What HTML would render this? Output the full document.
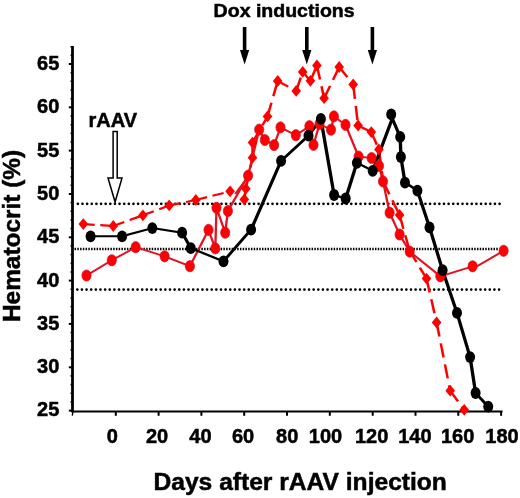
<!DOCTYPE html>
<html><head><meta charset="utf-8"><style>
html,body{margin:0;padding:0;background:#fff;width:520px;height:498px;overflow:hidden}
svg{display:block}
text{font-family:"Liberation Sans",sans-serif;font-weight:bold;fill:#000;stroke:#000;stroke-width:0.5px}
svg{will-change:transform}
.yl{font-size:20px}
.xl{font-size:20px}
.t1{font-size:18.7px}
.t2{font-size:20px}
.t3{font-size:24.6px}
.t4{font-size:24.4px}
</style></head><body>
<svg width="520" height="498" viewBox="0 0 520 498">
<line x1="77.85" y1="203.8" x2="500" y2="203.8" stroke="#000" stroke-width="2.7" stroke-dasharray="0.001 4.6335" stroke-linecap="round"/>
<line x1="77.3" y1="289.6" x2="500.2" y2="289.6" stroke="#000" stroke-width="2.7" stroke-dasharray="0.001 4.6335" stroke-linecap="round"/>
<line x1="74.55" y1="249" x2="498" y2="249" stroke="#000" stroke-width="2.5" stroke-dasharray="1.5 1.2562"/>
<line x1="72.5" y1="46" x2="72.5" y2="412.4" stroke="#000" stroke-width="2.8"/>
<line x1="72.9" y1="412" x2="72.3" y2="415.6" stroke="#000" stroke-width="1.4"/>
<line x1="72" y1="411.6" x2="502.6" y2="411.6" stroke="#000" stroke-width="2"/>
<line x1="68.8" y1="410.6" x2="73" y2="410.6" stroke="#000" stroke-width="2"/>
<line x1="70.5" y1="401.9" x2="73" y2="401.9" stroke="#000" stroke-width="1.5"/>
<line x1="70.5" y1="393.3" x2="73" y2="393.3" stroke="#000" stroke-width="1.5"/>
<line x1="70.5" y1="384.6" x2="73" y2="384.6" stroke="#000" stroke-width="1.5"/>
<line x1="70.5" y1="375.9" x2="73" y2="375.9" stroke="#000" stroke-width="1.5"/>
<line x1="68.8" y1="367.3" x2="73" y2="367.3" stroke="#000" stroke-width="2"/>
<line x1="70.5" y1="358.6" x2="73" y2="358.6" stroke="#000" stroke-width="1.5"/>
<line x1="70.5" y1="349.9" x2="73" y2="349.9" stroke="#000" stroke-width="1.5"/>
<line x1="70.5" y1="341.3" x2="73" y2="341.3" stroke="#000" stroke-width="1.5"/>
<line x1="70.5" y1="332.6" x2="73" y2="332.6" stroke="#000" stroke-width="1.5"/>
<line x1="68.8" y1="323.9" x2="73" y2="323.9" stroke="#000" stroke-width="2"/>
<line x1="70.5" y1="315.3" x2="73" y2="315.3" stroke="#000" stroke-width="1.5"/>
<line x1="70.5" y1="306.6" x2="73" y2="306.6" stroke="#000" stroke-width="1.5"/>
<line x1="70.5" y1="298.0" x2="73" y2="298.0" stroke="#000" stroke-width="1.5"/>
<line x1="70.5" y1="289.3" x2="73" y2="289.3" stroke="#000" stroke-width="1.5"/>
<line x1="68.8" y1="280.6" x2="73" y2="280.6" stroke="#000" stroke-width="2"/>
<line x1="70.5" y1="272.0" x2="73" y2="272.0" stroke="#000" stroke-width="1.5"/>
<line x1="70.5" y1="263.3" x2="73" y2="263.3" stroke="#000" stroke-width="1.5"/>
<line x1="70.5" y1="254.6" x2="73" y2="254.6" stroke="#000" stroke-width="1.5"/>
<line x1="70.5" y1="246.0" x2="73" y2="246.0" stroke="#000" stroke-width="1.5"/>
<line x1="68.8" y1="237.3" x2="73" y2="237.3" stroke="#000" stroke-width="2"/>
<line x1="70.5" y1="228.6" x2="73" y2="228.6" stroke="#000" stroke-width="1.5"/>
<line x1="70.5" y1="220.0" x2="73" y2="220.0" stroke="#000" stroke-width="1.5"/>
<line x1="70.5" y1="211.3" x2="73" y2="211.3" stroke="#000" stroke-width="1.5"/>
<line x1="70.5" y1="202.6" x2="73" y2="202.6" stroke="#000" stroke-width="1.5"/>
<line x1="68.8" y1="194.0" x2="73" y2="194.0" stroke="#000" stroke-width="2"/>
<line x1="70.5" y1="185.3" x2="73" y2="185.3" stroke="#000" stroke-width="1.5"/>
<line x1="70.5" y1="176.6" x2="73" y2="176.6" stroke="#000" stroke-width="1.5"/>
<line x1="70.5" y1="168.0" x2="73" y2="168.0" stroke="#000" stroke-width="1.5"/>
<line x1="70.5" y1="159.3" x2="73" y2="159.3" stroke="#000" stroke-width="1.5"/>
<line x1="68.8" y1="150.6" x2="73" y2="150.6" stroke="#000" stroke-width="2"/>
<line x1="70.5" y1="142.0" x2="73" y2="142.0" stroke="#000" stroke-width="1.5"/>
<line x1="70.5" y1="133.3" x2="73" y2="133.3" stroke="#000" stroke-width="1.5"/>
<line x1="70.5" y1="124.7" x2="73" y2="124.7" stroke="#000" stroke-width="1.5"/>
<line x1="70.5" y1="116.0" x2="73" y2="116.0" stroke="#000" stroke-width="1.5"/>
<line x1="68.8" y1="107.3" x2="73" y2="107.3" stroke="#000" stroke-width="2"/>
<line x1="70.5" y1="98.7" x2="73" y2="98.7" stroke="#000" stroke-width="1.5"/>
<line x1="70.5" y1="90.0" x2="73" y2="90.0" stroke="#000" stroke-width="1.5"/>
<line x1="70.5" y1="81.3" x2="73" y2="81.3" stroke="#000" stroke-width="1.5"/>
<line x1="70.5" y1="72.7" x2="73" y2="72.7" stroke="#000" stroke-width="1.5"/>
<line x1="68.8" y1="64.0" x2="73" y2="64.0" stroke="#000" stroke-width="2"/>
<line x1="70.5" y1="55.3" x2="73" y2="55.3" stroke="#000" stroke-width="1.5"/>
<line x1="70.5" y1="46.7" x2="73" y2="46.7" stroke="#000" stroke-width="1.5"/>
<line x1="115.8" y1="411" x2="115.8" y2="415.8" stroke="#000" stroke-width="2"/>
<line x1="158.6" y1="411" x2="158.6" y2="415.8" stroke="#000" stroke-width="2"/>
<line x1="201.4" y1="411" x2="201.4" y2="415.8" stroke="#000" stroke-width="2"/>
<line x1="244.2" y1="411" x2="244.2" y2="415.8" stroke="#000" stroke-width="2"/>
<line x1="287.0" y1="411" x2="287.0" y2="415.8" stroke="#000" stroke-width="2"/>
<line x1="329.8" y1="411" x2="329.8" y2="415.8" stroke="#000" stroke-width="2"/>
<line x1="372.7" y1="411" x2="372.7" y2="415.8" stroke="#000" stroke-width="2"/>
<line x1="415.5" y1="411" x2="415.5" y2="415.8" stroke="#000" stroke-width="2"/>
<line x1="458.3" y1="411" x2="458.3" y2="415.8" stroke="#000" stroke-width="2"/>
<line x1="501.1" y1="411" x2="501.1" y2="415.8" stroke="#000" stroke-width="2"/>
<g transform="scale(1.15,1)" stroke="#ff0000" stroke-width="2.2" stroke-linecap="butt"><line x1="72.43" y1="224.10" x2="82.34" y2="224.82"/><line x1="87.20" y1="225.18" x2="97.10" y2="225.90"/><line x1="98.52" y1="226.00" x2="108.06" y2="222.04"/><line x1="112.74" y1="220.09" x2="122.27" y2="216.13"/><line x1="124.26" y1="215.30" x2="133.77" y2="211.19"/><line x1="138.43" y1="209.16" x2="147.13" y2="205.40"/><line x1="147.13" y1="205.40" x2="156.92" y2="203.11"/><line x1="161.73" y1="201.99" x2="170.26" y2="200.00"/><line x1="170.26" y1="200.00" x2="179.98" y2="197.16"/><line x1="184.76" y1="195.77" x2="194.48" y2="192.94"/><line x1="199.25" y1="191.54" x2="200.09" y2="191.30"/><line x1="212.43" y1="199.40" x2="213.74" y2="188.70"/><line x1="213.74" y1="188.70" x2="216.36" y2="174.74"/><line x1="217.65" y1="167.88" x2="219.57" y2="157.70"/><line x1="219.57" y1="157.70" x2="219.57" y2="143.22"/><line x1="219.57" y1="142.60" x2="225.39" y2="130.89"/><line x1="228.26" y1="125.14" x2="232.61" y2="116.40"/><line x1="232.61" y1="116.40" x2="236.02" y2="102.80"/><line x1="237.69" y1="96.12" x2="241.10" y2="82.53"/><line x1="241.48" y1="81.00" x2="250.61" y2="86.62"/><line x1="255.10" y1="89.38" x2="257.57" y2="90.90"/><line x1="257.57" y1="90.90" x2="261.52" y2="77.62"/><line x1="263.22" y1="71.90" x2="269.91" y2="80.80"/><line x1="269.91" y1="80.80" x2="274.62" y2="68.06"/><line x1="275.57" y1="65.50" x2="278.23" y2="79.44"/><line x1="279.55" y1="86.29" x2="281.83" y2="98.20"/><line x1="281.83" y1="98.20" x2="287.02" y2="85.87"/><line x1="289.57" y1="79.81" x2="294.76" y2="67.47"/><line x1="294.96" y1="67.00" x2="302.02" y2="77.16"/><line x1="305.49" y1="82.14" x2="307.13" y2="84.50"/><line x1="307.13" y1="84.50" x2="308.62" y2="98.81"/><line x1="309.35" y1="105.85" x2="310.84" y2="120.16"/><line x1="311.39" y1="125.50" x2="320.62" y2="130.80"/><line x1="322.87" y1="132.10" x2="327.68" y2="144.76"/><line x1="329.48" y1="149.50" x2="331.16" y2="163.77"/><line x1="331.98" y1="170.78" x2="333.30" y2="182.00"/><line x1="333.30" y1="182.00" x2="338.57" y2="194.26"/><line x1="341.16" y1="200.29" x2="346.43" y2="212.55"/><line x1="347.48" y1="215.00" x2="350.79" y2="228.65"/><line x1="352.41" y1="235.35" x2="355.72" y2="249.00"/><line x1="356.09" y1="250.50" x2="362.13" y2="261.98"/><line x1="365.09" y1="267.62" x2="370.87" y2="278.60"/><line x1="370.87" y1="278.60" x2="373.65" y2="292.50"/><line x1="375.02" y1="299.32" x2="377.80" y2="313.22"/><line x1="379.16" y1="320.05" x2="379.65" y2="322.50"/><line x1="379.65" y1="322.50" x2="382.09" y2="336.53"/><line x1="383.28" y1="343.43" x2="385.72" y2="357.46"/><line x1="386.91" y1="364.36" x2="389.34" y2="378.39"/><line x1="390.54" y1="385.29" x2="391.48" y2="390.70"/><line x1="391.48" y1="390.70" x2="398.23" y2="401.30"/><line x1="401.55" y1="406.50" x2="403.65" y2="409.80"/></g>
<g transform="scale(1.22,1)"><polyline points="70.90,275.5 91.64,260.3 111.23,247.2 134.92,256.3 155.66,266.2 170.90,229.9 176.48,248.4 177.46,207.8 184.59,232.7 186.80,211.0 203.36,175.6 212.46,129.6 217.05,140.0 224.67,145.1 229.92,127.4 242.46,135.2 253.61,126.2 256.97,144.9 261.89,124.0 271.31,129.7 273.69,116.4 283.20,124.9 293.93,156.6 304.59,158.0 310.66,165.9 313.93,181.4 319.34,212.7 327.54,234.5 335.82,251.6 360.90,276.3 387.38,266.3 388.20,268.2 412.79,250.8" fill="none" stroke="#e2121f" stroke-width="1.9" stroke-linejoin="round"/><line x1="192.79" y1="194" x2="203.11" y2="177" stroke="#e2121f" stroke-width="1.7"/></g>
<g transform="scale(1.6,1)"><polyline points="56.62,236.3 76.31,236.3 95.19,228.1 113.81,232.7 119.25,248.2 139.69,261.3 156.94,229.6 175.69,160.8 192.81,135.7 200.56,118.9 208.81,195.0 216.06,198.5 223.06,162.8 232.94,170.8 245.19,118.5 250.12,136.9 250.56,157.0 253.12,182.6 260.87,190.6 268.44,227.3 276.62,270.2 285.62,312.9 293.81,357.1 297.25,393.0 305.12,406.6" fill="none" stroke="#000" stroke-width="2.1" stroke-linejoin="round"/></g>
<polygon points="78.5,224.1 83.3,218.2 88.1,224.1 83.3,230.0" fill="#ff0000"/>
<polygon points="108.5,226.0 113.3,220.1 118.1,226.0 113.3,231.9" fill="#ff0000"/>
<polygon points="138.1,215.3 142.9,209.4 147.7,215.3 142.9,221.2" fill="#ff0000"/>
<polygon points="164.4,205.4 169.2,199.5 174.0,205.4 169.2,211.3" fill="#ff0000"/>
<polygon points="191.0,200.0 195.8,194.1 200.6,200.0 195.8,205.9" fill="#ff0000"/>
<polygon points="225.3,191.3 230.1,185.4 234.9,191.3 230.1,197.2" fill="#ff0000"/>
<polygon points="239.5,199.4 244.3,193.5 249.1,199.4 244.3,205.3" fill="#ff0000"/>
<polygon points="241.0,188.7 245.8,182.8 250.6,188.7 245.8,194.6" fill="#ff0000"/>
<polygon points="247.7,157.7 252.5,151.8 257.3,157.7 252.5,163.6" fill="#ff0000"/>
<polygon points="247.7,142.6 252.5,136.7 257.3,142.6 252.5,148.5" fill="#ff0000"/>
<polygon points="262.7,116.4 267.5,110.5 272.3,116.4 267.5,122.3" fill="#ff0000"/>
<polygon points="272.9,81.0 277.7,75.1 282.5,81.0 277.7,86.9" fill="#ff0000"/>
<polygon points="291.4,90.9 296.2,85.0 301.0,90.9 296.2,96.8" fill="#ff0000"/>
<polygon points="297.9,71.9 302.7,66.0 307.5,71.9 302.7,77.8" fill="#ff0000"/>
<polygon points="305.6,80.8 310.4,74.9 315.2,80.8 310.4,86.7" fill="#ff0000"/>
<polygon points="312.1,65.5 316.9,59.6 321.7,65.5 316.9,71.4" fill="#ff0000"/>
<polygon points="319.3,98.2 324.1,92.3 328.9,98.2 324.1,104.1" fill="#ff0000"/>
<polygon points="334.4,67.0 339.2,61.1 344.0,67.0 339.2,72.9" fill="#ff0000"/>
<polygon points="348.4,84.5 353.2,78.6 358.0,84.5 353.2,90.4" fill="#ff0000"/>
<polygon points="353.3,125.5 358.1,119.6 362.9,125.5 358.1,131.4" fill="#ff0000"/>
<polygon points="366.5,132.1 371.3,126.2 376.1,132.1 371.3,138.0" fill="#ff0000"/>
<polygon points="374.1,149.5 378.9,143.6 383.7,149.5 378.9,155.4" fill="#ff0000"/>
<polygon points="394.8,215.0 399.6,209.1 404.4,215.0 399.6,220.9" fill="#ff0000"/>
<polygon points="421.7,278.6 426.5,272.7 431.3,278.6 426.5,284.5" fill="#ff0000"/>
<polygon points="431.8,322.5 436.6,316.6 441.4,322.5 436.6,328.4" fill="#ff0000"/>
<polygon points="445.4,390.7 450.2,384.8 455.0,390.7 450.2,396.6" fill="#ff0000"/>
<polygon points="459.4,409.8 464.2,403.9 469.0,409.8 464.2,415.7" fill="#ff0000"/>
<ellipse cx="86.5" cy="275.5" rx="4.6" ry="5.6" fill="#ff0000" stroke="#d0102a" stroke-width="0.7"/>
<ellipse cx="111.8" cy="260.3" rx="4.6" ry="5.6" fill="#ff0000" stroke="#d0102a" stroke-width="0.7"/>
<ellipse cx="135.7" cy="247.2" rx="4.6" ry="5.6" fill="#ff0000" stroke="#d0102a" stroke-width="0.7"/>
<ellipse cx="164.6" cy="256.3" rx="4.6" ry="5.6" fill="#ff0000" stroke="#d0102a" stroke-width="0.7"/>
<ellipse cx="189.9" cy="266.2" rx="4.6" ry="5.6" fill="#ff0000" stroke="#d0102a" stroke-width="0.7"/>
<ellipse cx="208.5" cy="229.9" rx="4.6" ry="5.6" fill="#ff0000" stroke="#d0102a" stroke-width="0.7"/>
<ellipse cx="215.3" cy="248.4" rx="4.6" ry="5.6" fill="#ff0000" stroke="#d0102a" stroke-width="0.7"/>
<ellipse cx="216.5" cy="207.8" rx="4.6" ry="5.6" fill="#ff0000" stroke="#d0102a" stroke-width="0.7"/>
<ellipse cx="225.2" cy="232.7" rx="4.6" ry="5.6" fill="#ff0000" stroke="#d0102a" stroke-width="0.7"/>
<ellipse cx="227.9" cy="211.0" rx="4.6" ry="5.6" fill="#ff0000" stroke="#d0102a" stroke-width="0.7"/>
<ellipse cx="248.1" cy="175.6" rx="4.6" ry="5.6" fill="#ff0000" stroke="#d0102a" stroke-width="0.7"/>
<ellipse cx="259.2" cy="129.6" rx="4.6" ry="5.6" fill="#ff0000" stroke="#d0102a" stroke-width="0.7"/>
<ellipse cx="264.8" cy="140.0" rx="4.6" ry="5.6" fill="#ff0000" stroke="#d0102a" stroke-width="0.7"/>
<ellipse cx="274.1" cy="145.1" rx="4.6" ry="5.6" fill="#ff0000" stroke="#d0102a" stroke-width="0.7"/>
<ellipse cx="280.5" cy="127.4" rx="4.6" ry="5.6" fill="#ff0000" stroke="#d0102a" stroke-width="0.7"/>
<ellipse cx="295.8" cy="135.2" rx="4.6" ry="5.6" fill="#ff0000" stroke="#d0102a" stroke-width="0.7"/>
<ellipse cx="309.4" cy="126.2" rx="4.6" ry="5.6" fill="#ff0000" stroke="#d0102a" stroke-width="0.7"/>
<ellipse cx="313.5" cy="144.9" rx="4.6" ry="5.6" fill="#ff0000" stroke="#d0102a" stroke-width="0.7"/>
<ellipse cx="319.5" cy="124.0" rx="4.6" ry="5.6" fill="#ff0000" stroke="#d0102a" stroke-width="0.7"/>
<ellipse cx="331.0" cy="129.7" rx="4.6" ry="5.6" fill="#ff0000" stroke="#d0102a" stroke-width="0.7"/>
<ellipse cx="333.9" cy="116.4" rx="4.6" ry="5.6" fill="#ff0000" stroke="#d0102a" stroke-width="0.7"/>
<ellipse cx="345.5" cy="124.9" rx="4.6" ry="5.6" fill="#ff0000" stroke="#d0102a" stroke-width="0.7"/>
<ellipse cx="358.6" cy="156.6" rx="4.6" ry="5.6" fill="#ff0000" stroke="#d0102a" stroke-width="0.7"/>
<ellipse cx="371.6" cy="158.0" rx="4.6" ry="5.6" fill="#ff0000" stroke="#d0102a" stroke-width="0.7"/>
<ellipse cx="379.0" cy="165.9" rx="4.6" ry="5.6" fill="#ff0000" stroke="#d0102a" stroke-width="0.7"/>
<ellipse cx="383.0" cy="181.4" rx="4.6" ry="5.6" fill="#ff0000" stroke="#d0102a" stroke-width="0.7"/>
<ellipse cx="389.6" cy="212.7" rx="4.6" ry="5.6" fill="#ff0000" stroke="#d0102a" stroke-width="0.7"/>
<ellipse cx="399.6" cy="234.5" rx="4.6" ry="5.6" fill="#ff0000" stroke="#d0102a" stroke-width="0.7"/>
<ellipse cx="409.7" cy="251.6" rx="4.6" ry="5.6" fill="#ff0000" stroke="#d0102a" stroke-width="0.7"/>
<ellipse cx="440.3" cy="276.3" rx="4.6" ry="5.6" fill="#ff0000" stroke="#d0102a" stroke-width="0.7"/>
<ellipse cx="472.6" cy="266.3" rx="4.6" ry="5.6" fill="#ff0000" stroke="#d0102a" stroke-width="0.7"/>
<ellipse cx="503.6" cy="250.8" rx="4.6" ry="5.6" fill="#ff0000" stroke="#d0102a" stroke-width="0.7"/>
<ellipse cx="90.6" cy="236.3" rx="5.0" ry="5.9" fill="#000"/>
<ellipse cx="122.1" cy="236.3" rx="5.0" ry="5.9" fill="#000"/>
<ellipse cx="152.3" cy="228.1" rx="5.0" ry="5.9" fill="#000"/>
<ellipse cx="182.1" cy="232.7" rx="5.0" ry="5.9" fill="#000"/>
<ellipse cx="190.8" cy="248.2" rx="5.0" ry="5.9" fill="#000"/>
<ellipse cx="223.5" cy="261.3" rx="5.0" ry="5.9" fill="#000"/>
<ellipse cx="251.1" cy="229.6" rx="5.0" ry="5.9" fill="#000"/>
<ellipse cx="281.1" cy="160.8" rx="5.0" ry="5.9" fill="#000"/>
<ellipse cx="308.5" cy="135.7" rx="5.0" ry="5.9" fill="#000"/>
<ellipse cx="320.9" cy="118.9" rx="5.0" ry="5.9" fill="#000"/>
<ellipse cx="334.1" cy="195.0" rx="5.0" ry="5.9" fill="#000"/>
<ellipse cx="345.7" cy="198.5" rx="5.0" ry="5.9" fill="#000"/>
<ellipse cx="356.9" cy="162.8" rx="5.0" ry="5.9" fill="#000"/>
<ellipse cx="372.7" cy="170.8" rx="5.0" ry="5.9" fill="#000"/>
<ellipse cx="391.2" cy="114.3" rx="5.0" ry="5.9" fill="#000"/>
<ellipse cx="400.2" cy="136.9" rx="5.0" ry="5.9" fill="#000"/>
<ellipse cx="400.9" cy="157.0" rx="5.0" ry="5.9" fill="#000"/>
<ellipse cx="405.0" cy="182.6" rx="5.0" ry="5.9" fill="#000"/>
<ellipse cx="417.4" cy="190.6" rx="5.0" ry="5.9" fill="#000"/>
<ellipse cx="429.5" cy="227.3" rx="5.0" ry="5.9" fill="#000"/>
<ellipse cx="442.6" cy="270.2" rx="5.0" ry="5.9" fill="#000"/>
<ellipse cx="457.0" cy="312.9" rx="5.0" ry="5.9" fill="#000"/>
<ellipse cx="470.1" cy="357.1" rx="5.0" ry="5.9" fill="#000"/>
<ellipse cx="475.6" cy="393.0" rx="5.0" ry="5.9" fill="#000"/>
<ellipse cx="488.2" cy="406.6" rx="5.0" ry="5.9" fill="#000"/>
<rect x="242.8" y="27" width="3.6" height="25" fill="#000"/>
<polygon points="240.0,50 249.2,50 244.6,64.5" fill="#000"/>
<rect x="305.0" y="27" width="3.6" height="25" fill="#000"/>
<polygon points="302.2,50 311.4,50 306.8,64.5" fill="#000"/>
<rect x="370.6" y="27" width="3.6" height="25" fill="#000"/>
<polygon points="367.8,50 377.0,50 372.4,64.5" fill="#000"/>
<path d="M113.1,131.4 H117.2 V178 H122 L115.1,202 L108,178 H113.1 Z" fill="#fff" stroke="#000" stroke-width="1.5" stroke-linejoin="miter"/>
<text x="59.3" y="415.7" text-anchor="end" class="yl">25</text>
<text x="59.3" y="373.4" text-anchor="end" class="yl">30</text>
<text x="59.3" y="330.1" text-anchor="end" class="yl">35</text>
<text x="59.3" y="286.7" text-anchor="end" class="yl">40</text>
<text x="59.3" y="243.4" text-anchor="end" class="yl">45</text>
<text x="59.3" y="200.1" text-anchor="end" class="yl">50</text>
<text x="59.3" y="156.7" text-anchor="end" class="yl">55</text>
<text x="59.3" y="113.4" text-anchor="end" class="yl">60</text>
<text x="59.3" y="70.1" text-anchor="end" class="yl">65</text>
<text x="112.2" y="442.5" text-anchor="middle" class="xl">0</text>
<text x="157.1" y="442.5" text-anchor="middle" class="xl">20</text>
<text x="200.4" y="442.5" text-anchor="middle" class="xl">40</text>
<text x="243.0" y="442.5" text-anchor="middle" class="xl">60</text>
<text x="287.2" y="442.5" text-anchor="middle" class="xl">80</text>
<text x="325.5" y="442.5" text-anchor="middle" class="xl">100</text>
<text x="371.7" y="442.5" text-anchor="middle" class="xl">120</text>
<text x="414.9" y="442.5" text-anchor="middle" class="xl">140</text>
<text x="457.7" y="442.5" text-anchor="middle" class="xl">160</text>
<text x="502.0" y="442.5" text-anchor="middle" class="xl">180</text>
<text transform="translate(213.6,17.1) scale(1.045,1)" class="t1">Dox inductions</text>
<text x="88.5" y="126.5" class="t2">rAAV</text>
<text x="153.5" y="490" class="t3">Days after rAAV injection</text>
<text transform="translate(19.9,322) rotate(-90)" class="t4">Hematocrit (%)</text>
</svg>
</body></html>
